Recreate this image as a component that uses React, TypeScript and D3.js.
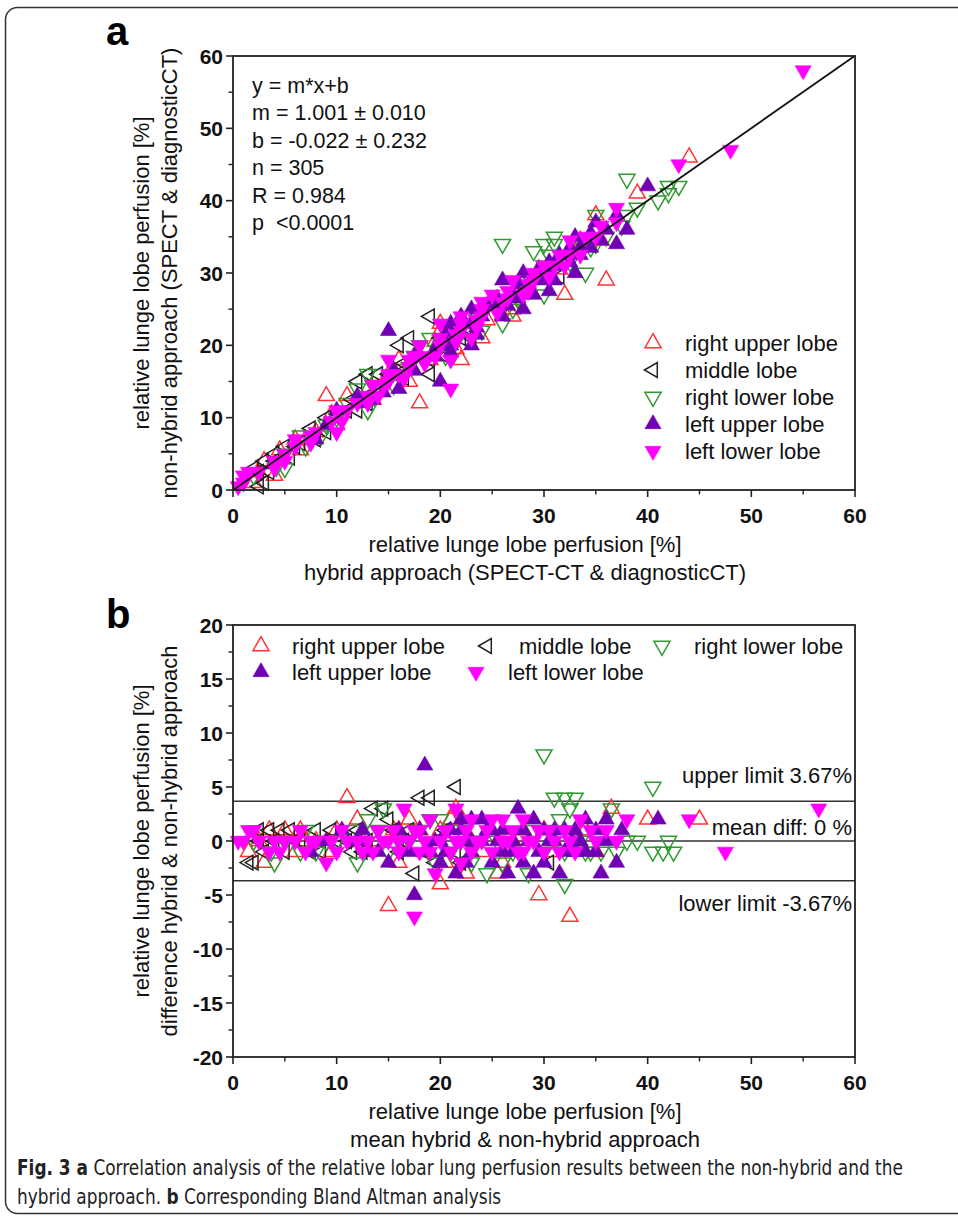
import React, { useLayoutEffect, useRef, useState } from 'react';
import * as d3 from 'd3';

// ---------------- DATA ----------------
// Bland-Altman data: [mean, difference (non-hybrid − hybrid)]
// Panel a points (hybrid x, non-hybrid y) are the same measurements: x = mean − diff/2, y = mean + diff/2
const lobeNames = ['right upper lobe', 'middle lobe', 'right lower lobe', 'left upper lobe', 'left lower lobe'];

const rightUpperBA: [number, number][] = [
  [1.5, -1], [2.5, 0], [3, -2], [3.5, 1], [5, 1], [6, -1], [6.5, 1], [7, 0], [8, 0], [9.5, -1], [10, 1], [11, 4],
  [12, 2], [12.5, 0], [13, -1], [14, 0], [15, -6], [15.5, 1], [16, 1], [16, -2], [17, 2], [18, 1], [18.5, -1],
  [19, -1], [20, 1], [20, -4], [20.5, -2], [21, 2], [21.5, 3], [22.5, -3], [23, 0], [24, -1], [25.5, -3], [26, -2],
  [27, 0], [28, 1], [29.5, -5], [30, 1], [31, -1], [32.5, -7], [33, 0], [34, 1], [35, -1], [36.5, 3], [40, 2],
  [45, 2],
];
const middleBA: [number, number][] = [
  [1.5, -2], [2, -2], [2.5, 1], [2.5, 0], [3, -1], [3.5, 1], [4, 0], [4.5, 1], [5, -1], [5.5, 1], [6, 0], [6.5, 0],
  [7.5, -1], [8, 1], [8.5, -1], [9.5, 1], [10, 0], [11, 0], [11.5, -1], [12, 1], [12.5, -1], [13, 0], [13.5, 3],
  [14.5, 3], [15, 2], [15.5, 1], [16, -1], [16.5, 0], [17, 1], [17.5, -3], [18, 4], [18.5, -1], [19, 4],
  [19.5, -2], [20, 0], [20.5, 1], [21.5, 5], [21.5, -1], [22, -2], [22.5, 0], [30.5, -2],
];
const rightLowerBA: [number, number][] = [
  [2, 0], [3.7, -1], [4, -2], [5, 0], [6.5, -1], [7, 1], [8, -1], [9, 0], [10, 0], [11.5, 1], [12, -2], [13, 2],
  [14, 1], [14.5, 3], [15, -1], [16, 0], [17, 0], [18, 1], [19, 2], [19.5, -2], [20, 2], [21, -1], [22, 1],
  [23, -2], [23.5, 0], [24.5, -3], [25.5, 0], [26, -2], [27, -1], [28.5, -3], [29, 1], [30, 8], [30, -1],
  [30.5, 1], [31, 4], [31.5, 2], [32, 4], [33, 4], [32.5, 3], [32, -4], [32, -1], [33.5, 0], [34, -1],
  [34.5, -1], [35.5, -1], [36.5, 3], [37, -1], [38, 0], [39, 0], [40.5, 5], [40.5, -1], [41.5, -1], [42, 0],
  [42.5, -1],
];
const leftUpperBA: [number, number][] = [
  [7.5, -1], [9, 0], [10.5, 1], [12, 0], [12.5, 1], [13, -1], [14, -1], [15, -2], [16, 1], [17, -1], [17.5, -5],
  [18, 1], [18.5, 7], [19, -1], [19.5, 0], [20, 0], [20, -2], [20.5, -1], [21, 1], [21.5, -3], [22, 2], [22, 1],
  [22.5, -2], [23, 2], [23, -1], [23, 0], [24, 2], [24, 0], [24.5, 1], [25, 1], [25, -2], [25.5, 0], [26, -1],
  [26, 1], [26.5, -3], [27, 0], [27, -1], [27.5, 3], [28, 1], [28, -2], [28.5, 0], [29, -3], [29, 2], [29.5, -1],
  [30, 1], [30, -2], [30.5, 0], [31, 1], [31, 0], [31.5, -3], [32, -1], [32, 1], [32.7, 0], [33, 1], [33, -1],
  [33.5, 0], [34, 2], [34, -1], [35, 1], [35, -1], [35.5, -3], [36, 2], [36, 0], [37, -2], [37.5, 1], [41, 2],
];
const leftLowerBA: [number, number][] = [
  [0.5, 0], [1, 0], [1.5, 1], [2, 1], [2.5, 0], [3.5, -1], [4, 0], [4.5, -1], [5, 0], [6, 0], [6.5, 1], [7, -1],
  [7.5, 0], [8, 0], [9, -2], [9.5, 0], [10, -1], [10.5, 1], [11, 0], [12, 0], [12.5, -1], [13, 0], [13.5, -1],
  [14, 1], [14.5, 0], [15, 0], [15.5, 1], [16, -1], [16, 0], [16.5, 3], [17, 0], [17.5, -7], [17.5, 1], [18, 1],
  [18, -1], [18.5, 0], [19, 2], [19.5, -3], [19, -1], [20, 0], [20.5, 1], [21, -1], [21.5, 3], [21.5, 0],
  [22, 0], [22, -2], [22.5, 1], [23, -1], [23, 2], [23.5, 0], [24, 0], [24.5, 1], [25, 2], [26, 2], [25, -1],
  [26, 0], [26.5, 0], [27, 1], [27.5, -1], [28, -1], [28, 2], [28.5, 0], [29, 0], [29.5, 1], [30, -1], [30.5, 1],
  [31, 0], [31.5, -1], [32, 1], [32.5, 0], [33, -1], [33.5, 2], [34.5, 1], [35, 0], [36, 1], [37, 0], [38, 2],
  [44, 2], [47.5, -1], [56.5, 3],
];

const fitSlope = 1.001;
const fitIntercept = -0.022;
const upperLimit = 3.67;
const lowerLimit = -3.67;
const meanDiff = 0;

const statLines = ['y = m*x+b', 'm = 1.001 ± 0.010', 'b = -0.022 ± 0.232', 'n = 305', 'R = 0.984', 'p  <0.0001'];

const ticksA = [0, 10, 20, 30, 40, 50, 60];
const minorTicksA = [5, 15, 25, 35, 45, 55];
const ticksBy = [-20, -15, -10, -5, 0, 5, 10, 15, 20];
const minorTicksBy = [-17.5, -12.5, -7.5, -2.5, 2.5, 7.5, 12.5, 17.5];

// ---------------- STYLE ----------------
const SANS = "'Liberation Sans', Arial, Helvetica, sans-serif";
const NARROW = "'Liberation Sans Narrow', 'Arial Narrow', 'DejaVu Sans Condensed', sans-serif";
const AX = '#222';

type Style = { shape: 'up' | 'down' | 'left'; fill: string; stroke: string };
const styles: Style[] = [
  { shape: 'up', fill: 'none', stroke: '#ff3333' },
  { shape: 'left', fill: 'none', stroke: '#222222' },
  { shape: 'down', fill: 'none', stroke: '#2f9a2f' },
  { shape: 'up', fill: '#7000b4', stroke: '#7000b4' },
  { shape: 'down', fill: '#ff00ff', stroke: '#ff00ff' },
];
const seriesBA = [rightUpperBA, middleBA, rightLowerBA, leftUpperBA, leftLowerBA];

const triUp = d3.symbol(d3.symbolTriangle, 112)() as string;
const triSide = d3.symbol(d3.symbolTriangle, 95)() as string;

function Mark({ s, x, y }: { s: Style; x: number; y: number }) {
  const rot = s.shape === 'up' ? 0 : s.shape === 'down' ? 180 : -90;
  const d = s.shape === 'left' ? triSide : triUp;
  return (
    <path
      d={d}
      transform={`translate(${x},${y}) rotate(${rot})`}
      fill={s.fill}
      stroke={s.stroke}
      strokeWidth={s.fill === 'none' ? 1.5 : 0.6}
    />
  );
}

// ---------------- LAYOUT ----------------
const W = 958;
const H = 1222;
const A = { left: 233, right: 855, top: 56, bottom: 490 };
const B = { left: 233, right: 855, top: 625, bottom: 1057 };
const CAPTION_WIDTH = 886;

const xA = d3.scaleLinear().domain([0, 60]).range([A.left, A.right]);
const yA = d3.scaleLinear().domain([0, 60]).range([A.bottom, A.top]);
const xB = d3.scaleLinear().domain([0, 60]).range([B.left, B.right]);
const yB = d3.scaleLinear().domain([-20, 20]).range([B.bottom, B.top]);

function Axes({ box, x, y, yTicks, yMinor }: any) {
  return (
    <g>
      <rect x={box.left} y={box.top} width={box.right - box.left} height={box.bottom - box.top} fill="none" stroke={AX} strokeWidth={1.8} />
      {ticksA.map((t) => (
        <g key={'xt' + t}>
          <line x1={x(t)} x2={x(t)} y1={box.bottom} y2={box.bottom + 7} stroke={AX} strokeWidth={1.6} />
          <text x={x(t)} y={box.bottom + 33} textAnchor="middle" fontFamily={SANS} fontWeight="bold" fontSize={21} fill="#111">
            {t}
          </text>
        </g>
      ))}
      {minorTicksA.map((t) => (
        <line key={'xm' + t} x1={x(t)} x2={x(t)} y1={box.bottom} y2={box.bottom + 4.5} stroke={AX} strokeWidth={1.4} />
      ))}
      {yTicks.map((t: number) => (
        <g key={'yt' + t}>
          <line x1={box.left - 7} x2={box.left} y1={y(t)} y2={y(t)} stroke={AX} strokeWidth={1.6} />
          <text x={box.left - 10} y={y(t) + 7.5} textAnchor="end" fontFamily={SANS} fontWeight="bold" fontSize={21} fill="#111">
            {t}
          </text>
        </g>
      ))}
      {yMinor.map((t: number) => (
        <line key={'ym' + t} x1={box.left - 4.5} x2={box.left} y1={y(t)} y2={y(t)} stroke={AX} strokeWidth={1.4} />
      ))}
    </g>
  );
}

function YTitle({ lines, cy }: { lines: string[]; cy: number }) {
  return (
    <g>
      {lines.map((l, i) => (
        <text key={i} transform={`translate(${149 + i * 28},${cy}) rotate(-90)`} textAnchor="middle" fontFamily={SANS} fontSize={22} fill="#111">
          {l}
        </text>
      ))}
    </g>
  );
}

function XTitle({ lines, y0 }: { lines: string[]; y0: number }) {
  return (
    <g>
      {lines.map((l, i) => (
        <text key={i} x={525} y={y0 + i * 28} textAnchor="middle" fontFamily={SANS} fontSize={22} fill="#111">
          {l}
        </text>
      ))}
    </g>
  );
}

export default function App() {
  const fitLine = d3.line<number>().x((v) => xA(v)).y((v) => yA(fitSlope * v + fitIntercept));
  const capRef = useRef<SVGTextElement>(null);
  const [capScale, setCapScale] = useState(0.9);

  useLayoutEffect(() => {
    const t = capRef.current;
    if (t) {
      const w = t.getComputedTextLength();
      if (w > 0) setCapScale(CAPTION_WIDTH / w);
    }
  }, []);

  const legendA = [343, 370, 397, 424, 451];
  const legendB = [
    { mx: 261, tx: 292, y: 646 },
    { mx: 487, tx: 519, y: 646 },
    { mx: 662, tx: 694, y: 646 },
    { mx: 261, tx: 292, y: 672 },
    { mx: 476, tx: 508, y: 672 },
  ];

  return (
    <svg width={W} height={H} viewBox={`0 0 ${W} ${H}`} style={{ position: 'absolute', left: 0, top: 0, display: 'block', background: '#fff' }}>
      <rect x={0} y={0} width={W} height={H} fill="#fff" />
      <rect x={5.5} y={7.5} width={1000} height={1206} rx={12} fill="none" stroke="#333" strokeWidth={1.5} />

      {/* ---------- Panel a ---------- */}
      <text x={106} y={45} fontFamily={SANS} fontWeight="bold" fontSize={40} fill="#000">a</text>
      <g>
        {seriesBA.map((ser, si) =>
          ser.map(([m, d], i) => <Mark key={`a${si}-${i}`} s={styles[si]} x={xA(m - d / 2)} y={yA(m + d / 2)} />)
        )}
      </g>
      <path d={fitLine([0, 60]) as string} stroke="#111" strokeWidth={1.8} fill="none" />
      <Axes box={A} x={xA} y={yA} yTicks={ticksA} yMinor={minorTicksA} />
      {statLines.map((l, i) => (
        <text key={i} x={252} y={93 + i * 27.4} fontFamily={SANS} fontSize={21.5} fill="#111" style={{ whiteSpace: 'pre' }}>
          {l}
        </text>
      ))}
      {lobeNames.map((n, i) => (
        <g key={'la' + i}>
          <Mark s={styles[i]} x={653} y={legendA[i]} />
          <text x={685} y={legendA[i] + 7.5} fontFamily={SANS} fontSize={22} fill="#111">{n}</text>
        </g>
      ))}
      <XTitle lines={['relative lunge lobe perfusion [%]', 'hybrid approach (SPECT-CT & diagnosticCT)']} y0={552} />
      <YTitle lines={['relative lunge lobe perfusion [%]', 'non-hybrid approach (SPECT & diagnosticCT)']} cy={273} />

      {/* ---------- Panel b ---------- */}
      <text x={106} y={628} fontFamily={SANS} fontWeight="bold" fontSize={40} fill="#000">b</text>
      {[upperLimit, meanDiff, lowerLimit].map((v) => (
        <line key={'l' + v} x1={B.left} x2={B.right} y1={yB(v)} y2={yB(v)} stroke="#333" strokeWidth={1.5} />
      ))}
      <g>
        {seriesBA.map((ser, si) =>
          ser.map(([m, d], i) => <Mark key={`b${si}-${i}`} s={styles[si]} x={xB(m)} y={yB(d)} />)
        )}
      </g>
      <Axes box={B} x={xB} y={yB} yTicks={ticksBy} yMinor={minorTicksBy} />
      <text x={852} y={783} textAnchor="end" fontFamily={SANS} fontSize={22} fill="#111">upper limit 3.67%</text>
      <text x={852} y={835} textAnchor="end" fontFamily={SANS} fontSize={22} fill="#111">mean diff: 0 %</text>
      <text x={852} y={911} textAnchor="end" fontFamily={SANS} fontSize={22} fill="#111">lower limit -3.67%</text>
      {lobeNames.map((n, i) => (
        <g key={'lb' + i}>
          <Mark s={styles[i]} x={legendB[i].mx} y={legendB[i].y} />
          <text x={legendB[i].tx} y={legendB[i].y + 7.5} fontFamily={SANS} fontSize={22} fill="#111">{n}</text>
        </g>
      ))}
      <XTitle lines={['relative lunge lobe perfusion [%]', 'mean hybrid & non-hybrid approach']} y0={1119} />
      <YTitle lines={['relative lunge lobe perfusion [%]', 'difference hybrid & non-hybrid approach']} cy={841} />

      {/* ---------- Caption ---------- */}
      <g transform={`translate(17,1175) scale(${capScale},1)`}>
        <text ref={capRef} x={0} y={0} fontFamily={NARROW} fontSize={20.5} fill="#222">
          <tspan fontWeight="bold">Fig. 3 a</tspan> Correlation analysis of the relative lobar lung perfusion results between the non-hybrid and the
        </text>
      </g>
      <g transform={`translate(17,1204) scale(${capScale},1)`}>
        <text x={0} y={0} fontFamily={NARROW} fontSize={20.5} fill="#222">
          hybrid approach. <tspan fontWeight="bold">b</tspan> Corresponding Bland Altman analysis
        </text>
      </g>
    </svg>
  );
}
